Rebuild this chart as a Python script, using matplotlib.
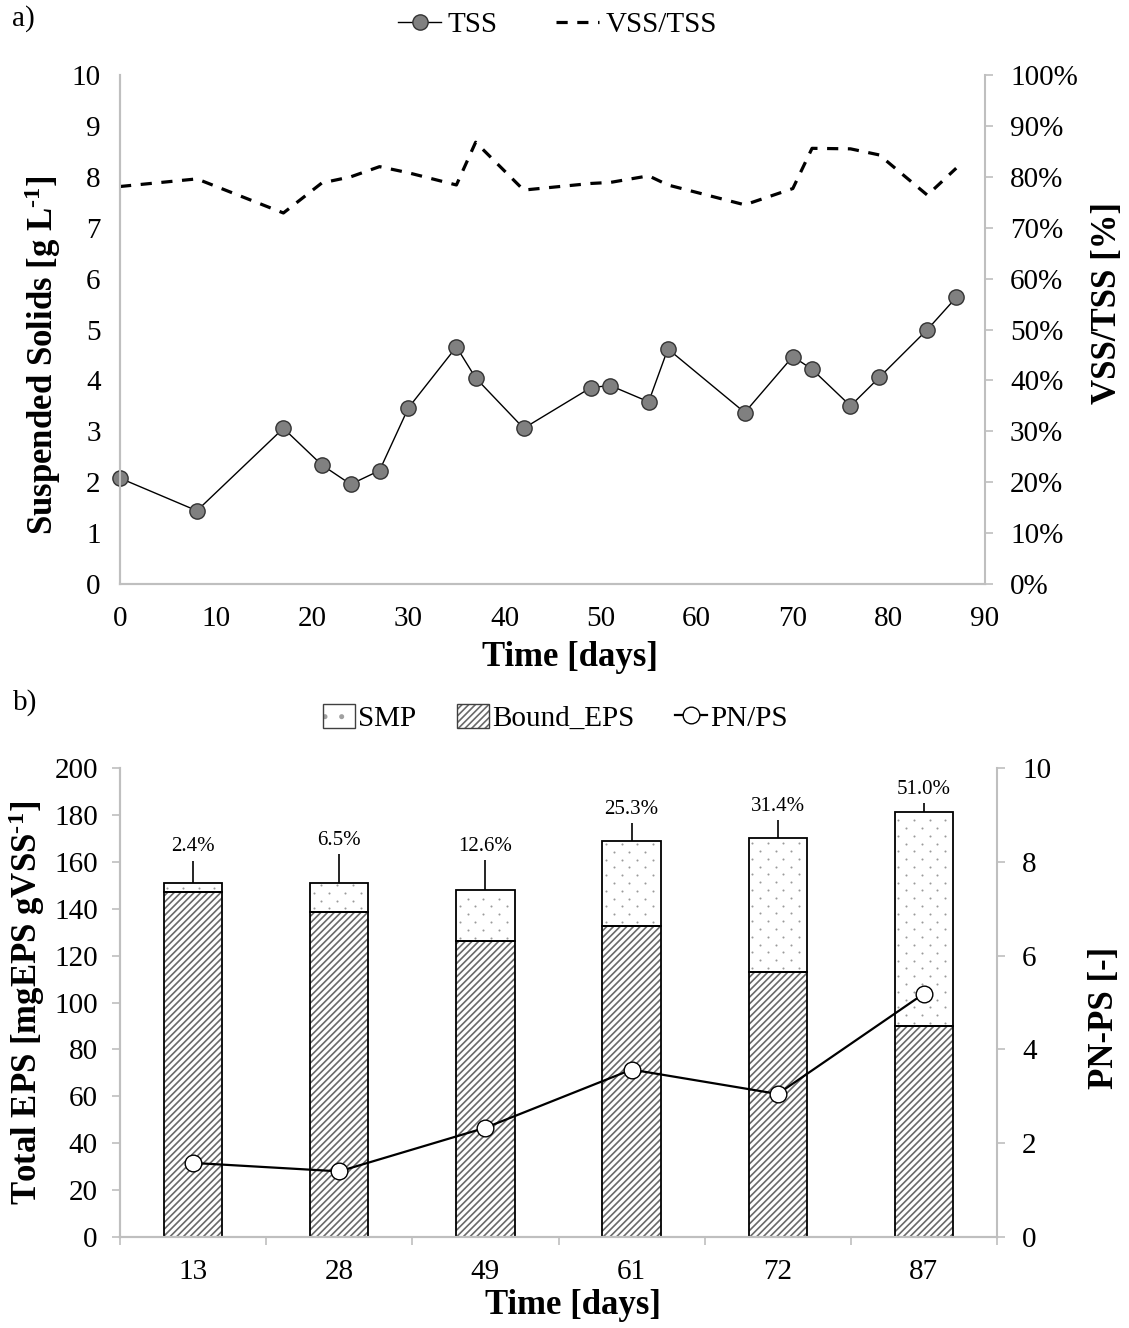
import numpy as np
import matplotlib
matplotlib.use('Agg')
import matplotlib.pyplot as plt
from matplotlib.patches import Patch
from matplotlib.lines import Line2D
from matplotlib.ticker import PercentFormatter, FixedLocator

plt.rcParams['font.family'] = ['Liberation Serif', 'DejaVu Serif']
plt.rcParams['mathtext.fontset'] = 'custom'
plt.rcParams['mathtext.rm'] = 'Liberation Serif'
plt.rcParams['mathtext.bf'] = 'Liberation Serif:bold'
plt.rcParams['mathtext.default'] = 'regular'
plt.rcParams['hatch.linewidth'] = 1.2

# a) suspended solids over time
days = [0, 8, 17, 21, 24, 27, 30, 35, 37, 42, 49, 51, 55, 57, 65, 70, 72, 76, 79, 84, 87]
tss = [2.08, 1.44, 3.06, 2.34, 1.96, 2.23, 3.46, 4.66, 4.05, 3.06, 3.86,
       3.90, 3.58, 4.62, 3.37, 4.47, 4.22, 3.50, 4.06, 5.00, 5.63]
vss_tss = [0.781, 0.796, 0.729, 0.788, 0.800, 0.820, 0.808, 0.784, 0.868, 0.774, 0.787,
           0.789, 0.802, 0.784, 0.745, 0.777, 0.856, 0.855, 0.843, 0.764, 0.817]

# b) EPS per sampling day
sample_days = ['13', '28', '49', '61', '72', '87']
bound_eps = [147.3, 138.6, 126.2, 132.8, 113.2, 89.8]
smp = [3.6, 12.3, 21.6, 35.9, 56.8, 91.3]
eps_err = [9.6, 12.4, 13.0, 7.7, 7.8, 4.1]
smp_labels = ['2.4%', '6.5%', '12.6%', '25.3%', '31.4%', '51.0%']
pn_ps = [1.58, 1.40, 2.33, 3.57, 3.05, 5.19]

grey = '#bfbfbf'
tick_fs = 21
label_fs = 25
fig = plt.figure(figsize=(11.29, 13.28), dpi=100)


def dot_texture(ax, x0, x1, y0, y1, step=15.7, row_gap=7.8):
    # staggered grid of small grey dots filling a bar segment (pixel spacing)
    trans = ax.transData
    (px0, py0), (px1, py1) = trans.transform([(x0, y0), (x1, y1)])
    pts = []
    y = py0 + 3.5
    row = 0
    while y < py1 - 1:
        start = px0 + (3.5 if row % 2 == 0 else 3.5 + step / 2)
        for xx in np.arange(start, px1 - 1, step):
            pts.append((xx, y))
        y += row_gap
        row += 1
    if pts:
        pts = trans.inverted().transform(pts)
        ax.scatter(pts[:, 0], pts[:, 1], s=2.2, color='#9a9a9a', lw=0, zorder=1.5)


# ---- panel a ----
ax1 = fig.add_axes([0.1063, 0.5602, 0.7662, 0.3833])
ax2 = ax1.twinx()
ax1.plot(days, tss, '-', color='k', lw=1.0, marker='o', ms=11,
         mfc='#808080', mec='#333333', mew=1.0, clip_on=False, zorder=3)
ax2.plot(days, vss_tss, color='k', lw=2.3, dashes=(3.5, 3.0))
ax1.set_xlim(0, 90)
ax1.set_ylim(0, 10)
ax2.set_ylim(0, 1)
ax1.set_xticks(np.arange(0, 91, 10))
ax1.set_yticks(np.arange(0, 11, 1))
ax2.set_yticks(np.arange(0, 1.01, 0.1))
ax2.yaxis.set_major_formatter(PercentFormatter(1.0, decimals=0))
for ax in (ax1, ax2):
    ax.spines['top'].set_visible(False)
    for s in ('left', 'bottom', 'right'):
        ax.spines[s].set_color(grey)
        ax.spines[s].set_linewidth(1.5)
ax1.spines['right'].set_visible(False)
ax1.tick_params(axis='x', length=0, labelsize=tick_fs, pad=16)
ax1.tick_params(axis='y', length=0, labelsize=tick_fs, pad=14)
ax2.tick_params(axis='y', length=6, width=1.2, color=grey, labelsize=tick_fs, pad=12)
ax1.set_xlabel('Time [days]', fontsize=label_fs, fontweight='bold')
ax1.xaxis.set_label_coords(0.52, -0.145)
ax1.xaxis.label.set_va('center')
ax1.set_ylabel(r'Suspended Solids [g L$^{\text{-}1}$]', fontsize=label_fs,
               fontweight='bold', va='center')
ax1.yaxis.set_label_coords(-0.09, 0.45)
ax2.set_ylabel('VSS/TSS [%]', fontsize=label_fs, fontweight='bold', va='center', rotation=90)
ax2.yaxis.set_label_coords(1.142, 0.552)

leg_a = [Line2D([], [], color='k', lw=1.0, marker='o', ms=11, mfc='#808080', mec='#333333'),
         Line2D([], [], color='k', lw=2.3, dashes=(3.5, 3.0))]
fig.legend(leg_a, ['TSS', 'VSS/TSS'], loc='center', bbox_to_anchor=(0.4935, 0.981),
           ncol=2, frameon=False, fontsize=tick_fs, handlelength=1.5, handletextpad=0.2,
           columnspacing=2.0)
fig.text(0.021, 0.986, 'a)', fontsize=tick_fs, ha='center', va='center')

# ---- panel b ----
ax3 = fig.add_axes([0.1063, 0.0685, 0.7768, 0.3532])
ax4 = ax3.twinx()
x = np.arange(len(sample_days))
w = 0.4
total = np.array(bound_eps) + np.array(smp)
ax3.set_xlim(-0.5, 5.5)
ax3.set_ylim(0, 200)
ax4.set_ylim(0, 10)

ax3.bar(x, bound_eps, width=w, color='white', edgecolor='#6a6a6a', hatch='/////', lw=0)
for xi, b, s in zip(x, bound_eps, smp):
    dot_texture(ax3, xi - w / 2, xi + w / 2, b, b + s)
ax3.bar(x, bound_eps, width=w, fill=False, edgecolor='k', lw=1.3, zorder=2)
ax3.bar(x, smp, width=w, bottom=bound_eps, fill=False, edgecolor='k', lw=1.3, zorder=2)
ax3.errorbar(x, total, yerr=[np.zeros(len(x)), eps_err], fmt='none', ecolor='k',
             elinewidth=1.2, capsize=0)
for xi, t, e, lab in zip(x, total, eps_err, smp_labels):
    ax3.annotate(lab, (xi, t + e), xytext=(0, 3), textcoords='offset points',
                 ha='center', va='bottom', fontsize=15)
ax4.plot(x, pn_ps, color='k', lw=1.6, marker='o', ms=12, mfc='white', mec='k', mew=1.0)

ax3.set_xticks(x)
ax3.set_xticklabels(sample_days)
ax3.xaxis.set_minor_locator(FixedLocator(np.arange(-0.5, 5.6, 1)))
ax3.set_yticks(np.arange(0, 201, 20))
ax4.set_yticks(np.arange(0, 11, 2))
for ax in (ax3, ax4):
    ax.spines['top'].set_visible(False)
    for s in ('left', 'bottom', 'right'):
        ax.spines[s].set_color(grey)
        ax.spines[s].set_linewidth(1.5)
ax3.spines['right'].set_visible(False)
ax3.tick_params(axis='x', which='major', length=0, labelsize=tick_fs, pad=16)
ax3.tick_params(axis='x', which='minor', length=6, width=1.2, color=grey)
ax3.tick_params(axis='y', length=6, width=1.2, color=grey, labelsize=tick_fs, pad=10)
ax4.tick_params(axis='y', length=6, width=1.2, color=grey, labelsize=tick_fs, pad=12)
ax3.set_xlabel('Time [days]', fontsize=label_fs, fontweight='bold')
ax3.xaxis.set_label_coords(0.516, -0.145)
ax3.xaxis.label.set_va('center')
ax3.set_ylabel(r'Total EPS [mgEPS gVSS$^{\text{-}1}$]', fontsize=label_fs,
               fontweight='bold', va='center')
ax3.yaxis.set_label_coords(-0.106, 0.5)
ax4.set_ylabel('PN-PS [-]', fontsize=label_fs, fontweight='bold', va='center', rotation=90)
ax4.yaxis.set_label_coords(1.123, 0.467)

smp_h = (Patch(facecolor='white', edgecolor='#a0a0a0', hatch='.', lw=0),
         Patch(fill=False, edgecolor='#404040', lw=1.0))
bound_h = (Patch(facecolor='white', edgecolor='#6a6a6a', hatch='/////', lw=0),
           Patch(fill=False, edgecolor='#404040', lw=1.0))
pn_h = Line2D([], [], color='k', lw=1.6, marker='o', ms=12, mfc='white', mec='k')
fig.legend([smp_h, bound_h, pn_h], ['SMP', 'Bound_EPS', 'PN/PS'], loc='center',
           bbox_to_anchor=(0.4916, 0.4593), ncol=3, frameon=False, fontsize=tick_fs,
           handlelength=1.1, handleheight=0.9, handletextpad=0.1, columnspacing=1.4)
fig.text(0.022, 0.471, 'b)', fontsize=tick_fs, ha='center', va='center')

fig.savefig('out.png', dpi=100)
